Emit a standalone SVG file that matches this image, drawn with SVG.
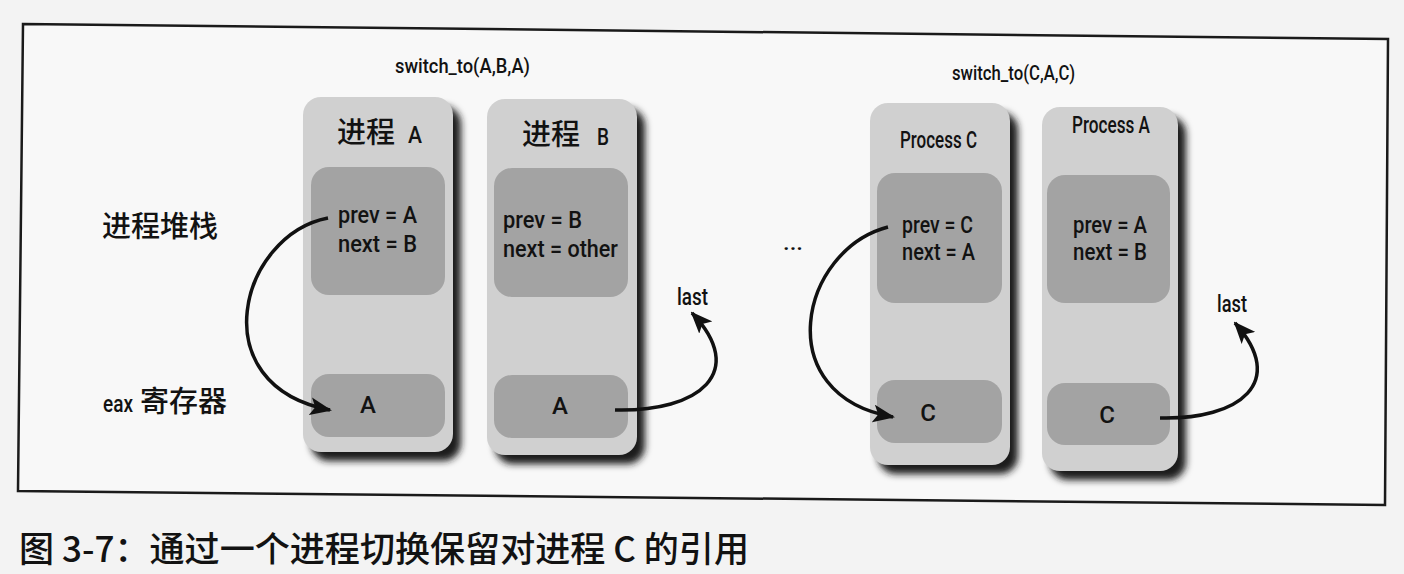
<svg xmlns="http://www.w3.org/2000/svg" width="1404" height="574" viewBox="0 0 1404 574">
<style>
.lat{font-family:Roboto,"Liberation Sans","DejaVu Sans",sans-serif;font-weight:500;fill:#121212}
.cjk{font-family:"Noto Sans CJK SC","Noto Sans",sans-serif;font-weight:500;fill:#121212}
.outer{fill:#d0d0d0}
.inner{fill:#a3a3a3}
.shadow{fill:#1a1a1a;filter:url(#blur)}
.conn{fill:none;stroke:#111;stroke-width:3.5;marker-end:url(#arr)}
</style>
<defs>
<filter id="blur" x="-20%" y="-20%" width="140%" height="140%"><feGaussianBlur stdDeviation="3.5"/></filter>
<marker id="arr" viewBox="0 0 22 18" markerUnits="userSpaceOnUse" markerWidth="22" markerHeight="18" refX="20" refY="9" orient="auto"><path d="M0,0 L22,9 L0,18 L5,9 z" fill="#111"/></marker>
</defs>
<rect width="1404" height="574" fill="#f3f3f3"/>
<polygon points="23,24 1388,39 1385,505 18,491" fill="#f8f8f8" stroke="#1a1a1a" stroke-width="2.5"/>

<text class="lat" x="395" y="73" font-size="21" textLength="135" lengthAdjust="spacingAndGlyphs">switch_to(A,B,A)</text>
<text class="lat" x="952" y="80" font-size="21" textLength="123" lengthAdjust="spacingAndGlyphs">switch_to(C,A,C)</text>

<text class="cjk" x="102" y="237" font-size="29">进程堆栈</text>
<text class="cjk" x="103" y="412" font-size="29"><tspan class="lat" font-size="23" textLength="30" lengthAdjust="spacingAndGlyphs">eax</tspan><tspan x="140">寄存器</tspan></text>

<g id="procA">
<rect class="shadow" x="311" y="106" width="150" height="355" rx="18"/>
<rect class="outer" x="303" y="97" width="150" height="355" rx="18"/>
<rect class="inner" x="311" y="167" width="134" height="128" rx="18"/>
<rect class="inner" x="311" y="374" width="134" height="63" rx="18"/>
<text class="cjk" x="337" y="143" font-size="29">进程<tspan class="lat" x="408" font-size="24" textLength="14" lengthAdjust="spacingAndGlyphs">A</tspan></text>
<text class="lat" x="338" y="223" font-size="23" textLength="79" lengthAdjust="spacingAndGlyphs">prev = A</text>
<text class="lat" x="338" y="252" font-size="23" textLength="79" lengthAdjust="spacingAndGlyphs">next = B</text>
<text class="lat" x="368" y="413" font-size="24" text-anchor="middle">A</text>
</g>

<g id="procB">
<rect class="shadow" x="495" y="108" width="150" height="356" rx="18"/>
<rect class="outer" x="487" y="99" width="150" height="356" rx="18"/>
<rect class="inner" x="494" y="168" width="134" height="129" rx="18"/>
<rect class="inner" x="494" y="375" width="134" height="63" rx="18"/>
<text class="cjk" x="522" y="145" font-size="29">进程<tspan class="lat" x="597" font-size="24" textLength="12" lengthAdjust="spacingAndGlyphs">B</tspan></text>
<text class="lat" x="503" y="228" font-size="23" textLength="79" lengthAdjust="spacingAndGlyphs">prev = B</text>
<text class="lat" x="503" y="257" font-size="23" textLength="115" lengthAdjust="spacingAndGlyphs">next = other</text>
<text class="lat" x="560" y="414" font-size="24" text-anchor="middle">A</text>
</g>

<g id="procC">
<rect class="shadow" x="878" y="112" width="140" height="362" rx="18"/>
<rect class="outer" x="870" y="103" width="140" height="362" rx="18"/>
<rect class="inner" x="877" y="173" width="125" height="130" rx="18"/>
<rect class="inner" x="877" y="380" width="125" height="63" rx="18"/>
<text class="lat" x="900" y="148" font-size="24" textLength="77" lengthAdjust="spacingAndGlyphs">Process C</text>
<text class="lat" x="902" y="233" font-size="23" textLength="71" lengthAdjust="spacingAndGlyphs">prev = C</text>
<text class="lat" x="902" y="260" font-size="23" textLength="73" lengthAdjust="spacingAndGlyphs">next = A</text>
<text class="lat" x="928" y="421" font-size="24" text-anchor="middle">C</text>
</g>

<g id="procA2">
<rect class="shadow" x="1050" y="116" width="136" height="364" rx="18"/>
<rect class="outer" x="1042" y="107" width="136" height="364" rx="18"/>
<rect class="inner" x="1047" y="175" width="123" height="128" rx="18"/>
<rect class="inner" x="1047" y="383" width="123" height="62" rx="18"/>
<text class="lat" x="1072" y="133" font-size="24" textLength="78" lengthAdjust="spacingAndGlyphs">Process A</text>
<text class="lat" x="1073" y="233" font-size="23" textLength="74" lengthAdjust="spacingAndGlyphs">prev = A</text>
<text class="lat" x="1073" y="260" font-size="23" textLength="74" lengthAdjust="spacingAndGlyphs">next = B</text>
<text class="lat" x="1107" y="423" font-size="24" text-anchor="middle">C</text>
</g>

<text class="lat" x="783" y="250" font-size="22" textLength="20" lengthAdjust="spacingAndGlyphs">...</text>
<text class="lat" x="677" y="305" font-size="23" textLength="31" lengthAdjust="spacingAndGlyphs">last</text>
<text class="lat" x="1217" y="312" font-size="23" textLength="30" lengthAdjust="spacingAndGlyphs">last</text>

<g id="connectors">
<path class="conn" d="M328,218 C240,235 200,385 330,410"/>
<path class="conn" d="M615,410 C700,412 748,372 692,313"/>
<path class="conn" d="M888,227 C800,250 768,395 893,417"/>
<path class="conn" d="M1160,418 C1240,420 1288,382 1235,323"/>
</g>

<text class="cjk" x="19" y="562" font-size="35" font-weight="bold" textLength="730" lengthAdjust="spacingAndGlyphs">图 3-7：通过一个进程切换保留对进程 C 的引用</text>
</svg>
